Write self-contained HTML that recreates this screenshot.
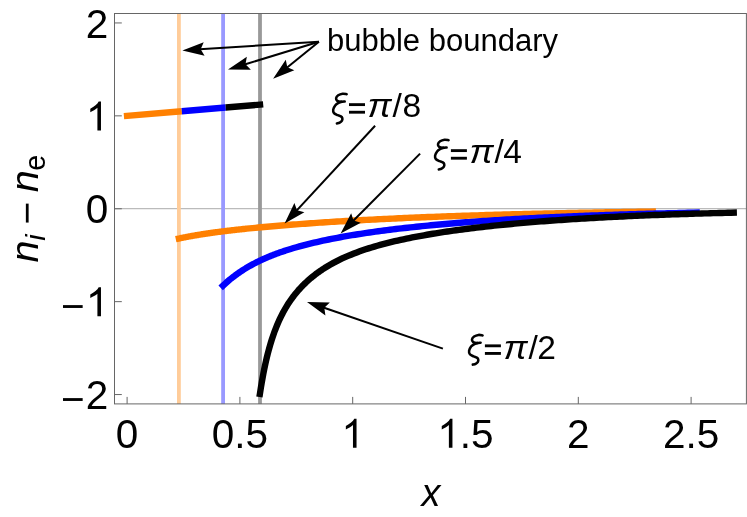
<!DOCTYPE html><html><head><meta charset="utf-8"><style>html,body{margin:0;padding:0;background:#fff}svg{display:block;will-change:transform;opacity:0.999}text{font-family:"Liberation Sans",sans-serif;fill:#000}</style></head><body>
<svg width="747" height="517" viewBox="0 0 747 517">
<rect width="747" height="517" fill="#fff"/>
<line x1="114.5" y1="208.70" x2="746.4" y2="208.70" stroke="#bbbbbb" stroke-width="1.3"/>
<line x1="178.9" y1="13.5" x2="178.9" y2="403.9" stroke="#ffcc99" stroke-width="3.8"/>
<line x1="223.1" y1="13.5" x2="223.1" y2="403.9" stroke="#9999ff" stroke-width="3.8"/>
<line x1="260.0" y1="13.5" x2="260.0" y2="403.9" stroke="#999999" stroke-width="3.8"/>
<g fill="none" stroke-width="6.4" stroke-linecap="butt">
<line x1="123.91" y1="116.12" x2="181.80" y2="111.22" stroke="#ff8000"/>
<line x1="181.80" y1="111.22" x2="225.70" y2="107.51" stroke="#0000ff"/>
<line x1="225.70" y1="107.51" x2="263.19" y2="104.34" stroke="#000"/>
</g>
<g fill="none" stroke-width="6.4" stroke-linecap="square" stroke-linejoin="round">
<path d="M178.90 238.52 L179.75 238.34 L180.61 238.16 L181.47 237.98 L182.32 237.80 L183.18 237.63 L184.04 237.45 L184.89 237.28 L185.75 237.12 L186.61 236.95 L187.46 236.79 L188.32 236.62 L189.18 236.46 L190.03 236.31 L190.89 236.15 L191.75 236.00 L192.61 235.84 L193.46 235.69 L194.32 235.54 L195.18 235.40 L196.03 235.25 L196.89 235.11 L197.75 234.97 L198.60 234.83 L199.46 234.69 L200.32 234.55 L201.17 234.41 L202.03 234.28 L202.89 234.14 L203.74 234.01 L204.60 233.88 L205.46 233.75 L206.31 233.62 L207.17 233.50 L208.03 233.37 L208.88 233.25 L209.74 233.12 L210.60 233.00 L211.45 232.88 L212.31 232.76 L213.17 232.64 L214.02 232.53 L214.88 232.41 L215.74 232.29 L216.59 232.18 L217.45 232.07 L218.31 231.95 L219.16 231.84 L220.02 231.73 L220.88 231.62 L221.73 231.51 L222.59 231.41 L223.45 231.30 L224.30 231.19 L225.16 231.09 L226.02 230.98 L226.87 230.88 L227.73 230.78 L228.59 230.67 L229.44 230.57 L230.30 230.47 L231.16 230.37 L232.01 230.27 L232.87 230.18 L233.73 230.08 L234.58 229.98 L235.44 229.88 L236.30 229.79 L237.15 229.69 L238.01 229.60 L238.87 229.51 L239.72 229.41 L240.58 229.32 L241.44 229.23 L242.29 229.14 L243.15 229.05 L244.01 228.96 L244.86 228.87 L245.72 228.78 L246.58 228.69 L249.50 228.39 L252.42 228.10 L255.34 227.82 L258.26 227.54 L261.19 227.26 L264.11 227.00 L267.03 226.73 L269.95 226.47 L272.87 226.22 L275.80 225.97 L278.72 225.72 L281.64 225.48 L284.56 225.24 L287.48 225.01 L290.40 224.78 L293.33 224.56 L296.25 224.33 L299.17 224.11 L302.09 223.90 L305.01 223.69 L307.93 223.48 L310.86 223.27 L313.78 223.07 L316.70 222.87 L319.62 222.67 L322.54 222.48 L325.47 222.29 L328.39 222.10 L331.31 221.92 L334.23 221.73 L337.15 221.55 L340.07 221.38 L343.00 221.20 L345.92 221.03 L348.84 220.86 L351.76 220.69 L354.68 220.53 L357.60 220.36 L360.53 220.20 L363.45 220.05 L366.37 219.89 L369.29 219.74 L372.21 219.58 L375.14 219.44 L378.06 219.29 L380.98 219.14 L383.90 219.00 L386.82 218.86 L389.74 218.72 L392.67 218.58 L395.59 218.45 L398.51 218.31 L401.43 218.18 L404.35 218.05 L407.27 217.92 L410.20 217.80 L413.12 217.67 L416.04 217.55 L418.96 217.43 L421.88 217.31 L424.81 217.19 L427.73 217.07 L430.65 216.96 L433.57 216.85 L436.49 216.74 L439.41 216.63 L442.34 216.52 L445.26 216.41 L448.18 216.30 L451.10 216.20 L454.02 216.10 L456.94 216.00 L459.87 215.90 L462.79 215.80 L465.71 215.70 L468.63 215.61 L471.55 215.51 L474.48 215.42 L477.40 215.33 L480.32 215.24 L483.24 215.15 L486.16 215.06 L489.08 214.97 L492.01 214.89 L494.93 214.80 L497.85 214.72 L500.77 214.64 L503.69 214.56 L506.61 214.48 L509.54 214.40 L512.46 214.32 L515.38 214.24 L518.30 214.17 L521.22 214.09 L524.15 214.02 L527.07 213.95 L529.99 213.87 L532.91 213.80 L535.83 213.73 L538.75 213.67 L541.68 213.60 L544.60 213.53 L547.52 213.47 L550.44 213.40 L553.36 213.34 L556.28 213.27 L559.21 213.21 L562.13 213.15 L565.05 213.09 L567.97 213.03 L570.89 212.97 L573.82 212.91 L576.74 212.86 L579.66 212.80 L582.58 212.74 L585.50 212.69 L588.42 212.63 L591.35 212.58 L594.27 212.53 L597.19 212.48 L600.11 212.42 L603.03 212.37 L605.95 212.32 L608.88 212.28 L611.80 212.23 L614.72 212.18 L617.64 212.13 L620.56 212.09 L623.49 212.04 L626.41 211.99 L629.33 211.95 L632.25 211.91 L635.17 211.86 L638.09 211.82 L641.02 211.78 L643.94 211.74 L646.86 211.69 L649.78 211.65 L652.70 211.61" stroke="#ff8000"/>
<path d="M223.00 285.66 L223.86 284.85 L224.72 284.06 L225.57 283.28 L226.43 282.52 L227.29 281.77 L228.14 281.03 L229.00 280.30 L229.86 279.59 L230.71 278.89 L231.57 278.20 L232.43 277.52 L233.28 276.86 L234.14 276.20 L235.00 275.56 L235.85 274.93 L236.71 274.30 L237.57 273.69 L238.42 273.09 L239.28 272.50 L240.14 271.91 L240.99 271.34 L241.85 270.77 L242.71 270.22 L243.56 269.67 L244.42 269.13 L245.28 268.60 L246.13 268.08 L246.99 267.57 L247.85 267.06 L248.70 266.57 L249.56 266.07 L250.42 265.59 L251.27 265.12 L252.13 264.65 L252.99 264.18 L253.84 263.73 L254.70 263.28 L255.56 262.84 L256.41 262.40 L257.27 261.97 L258.13 261.55 L258.98 261.13 L259.84 260.72 L260.70 260.31 L261.55 259.91 L262.41 259.52 L263.27 259.13 L264.12 258.74 L264.98 258.37 L265.84 257.99 L266.69 257.62 L267.55 257.26 L268.41 256.90 L269.26 256.54 L270.12 256.19 L270.98 255.85 L271.83 255.50 L272.69 255.17 L273.55 254.83 L274.41 254.50 L275.26 254.18 L276.12 253.86 L276.98 253.54 L277.83 253.23 L278.69 252.92 L279.55 252.61 L280.40 252.31 L281.26 252.01 L282.12 251.72 L282.97 251.42 L283.83 251.14 L284.69 250.85 L285.54 250.57 L286.40 250.29 L287.26 250.01 L288.11 249.74 L288.97 249.47 L289.83 249.20 L290.68 248.94 L293.60 248.06 L296.52 247.21 L299.44 246.40 L302.36 245.60 L305.28 244.84 L308.20 244.10 L311.12 243.38 L314.04 242.68 L316.97 242.01 L319.89 241.35 L322.81 240.72 L325.73 240.10 L328.65 239.50 L331.57 238.91 L334.49 238.34 L337.41 237.79 L340.33 237.25 L343.25 236.72 L346.17 236.21 L349.09 235.70 L352.01 235.21 L354.93 234.74 L357.85 234.27 L360.77 233.81 L363.69 233.37 L366.61 232.93 L369.53 232.50 L372.45 232.08 L375.37 231.68 L378.29 231.28 L381.21 230.88 L384.13 230.50 L387.05 230.12 L389.97 229.76 L392.89 229.39 L395.81 229.04 L398.73 228.69 L401.65 228.35 L404.57 228.02 L407.49 227.70 L410.41 227.37 L413.34 227.06 L416.26 226.75 L419.18 226.45 L422.10 226.15 L425.02 225.86 L427.94 225.58 L430.86 225.30 L433.78 225.02 L436.70 224.75 L439.62 224.48 L442.54 224.22 L445.46 223.97 L448.38 223.72 L451.30 223.47 L454.22 223.23 L457.14 222.99 L460.06 222.76 L462.98 222.53 L465.90 222.30 L468.82 222.08 L471.74 221.86 L474.66 221.65 L477.58 221.44 L480.50 221.23 L483.42 221.03 L486.34 220.83 L489.26 220.64 L492.18 220.44 L495.10 220.26 L498.02 220.07 L500.94 219.89 L503.86 219.71 L506.78 219.53 L509.71 219.36 L512.63 219.19 L515.55 219.02 L518.47 218.86 L521.39 218.70 L524.31 218.54 L527.23 218.38 L530.15 218.23 L533.07 218.08 L535.99 217.93 L538.91 217.78 L541.83 217.64 L544.75 217.50 L547.67 217.36 L550.59 217.22 L553.51 217.09 L556.43 216.96 L559.35 216.83 L562.27 216.70 L565.19 216.58 L568.11 216.45 L571.03 216.33 L573.95 216.21 L576.87 216.10 L579.79 215.98 L582.71 215.87 L585.63 215.76 L588.55 215.65 L591.47 215.54 L594.39 215.43 L597.31 215.33 L600.23 215.23 L603.15 215.13 L606.08 215.03 L609.00 214.93 L611.92 214.84 L614.84 214.74 L617.76 214.65 L620.68 214.56 L623.60 214.47 L626.52 214.38 L629.44 214.29 L632.36 214.21 L635.28 214.12 L638.20 214.04 L641.12 213.96 L644.04 213.88 L646.96 213.80 L649.88 213.72 L652.80 213.65 L655.72 213.57 L658.64 213.50 L661.56 213.43 L664.48 213.36 L667.40 213.29 L670.32 213.22 L673.24 213.15 L676.16 213.08 L679.08 213.02 L682.00 212.95 L684.92 212.89 L687.84 212.82 L690.76 212.76 L693.68 212.70 L696.60 212.64" stroke="#0000ff"/>
<path d="M259.91 393.87 L260.77 388.37 L261.62 383.20 L262.48 378.33 L263.34 373.74 L264.19 369.40 L265.05 365.31 L265.91 361.43 L266.76 357.76 L267.62 354.27 L268.48 350.97 L269.33 347.82 L270.19 344.83 L271.05 341.98 L271.90 339.25 L272.76 336.66 L273.62 334.17 L274.47 331.79 L275.33 329.51 L276.19 327.33 L277.04 325.23 L277.90 323.21 L278.76 321.27 L279.62 319.40 L280.47 317.59 L281.33 315.85 L282.19 314.17 L283.04 312.55 L283.90 310.98 L284.76 309.46 L285.61 307.99 L286.47 306.56 L287.33 305.17 L288.18 303.83 L289.04 302.52 L289.90 301.25 L290.75 300.01 L291.61 298.81 L292.47 297.64 L293.32 296.50 L294.18 295.39 L295.04 294.30 L295.89 293.25 L296.75 292.21 L297.61 291.20 L298.46 290.22 L299.32 289.26 L300.18 288.31 L301.03 287.39 L301.89 286.49 L302.75 285.61 L303.60 284.75 L304.46 283.90 L305.32 283.08 L306.17 282.27 L307.03 281.47 L307.89 280.69 L308.74 279.93 L309.60 279.18 L310.46 278.44 L311.31 277.72 L312.17 277.02 L313.03 276.32 L313.88 275.64 L314.74 274.97 L315.60 274.31 L316.45 273.67 L317.31 273.03 L318.17 272.41 L319.02 271.80 L319.88 271.20 L320.74 270.61 L321.59 270.02 L322.45 269.45 L323.31 268.89 L324.16 268.34 L325.02 267.79 L325.88 267.26 L326.73 266.73 L327.59 266.21 L330.51 264.50 L333.43 262.88 L336.36 261.34 L339.28 259.88 L342.20 258.48 L345.12 257.15 L348.04 255.88 L350.96 254.67 L353.89 253.51 L356.81 252.39 L359.73 251.33 L362.65 250.30 L365.57 249.32 L368.50 248.37 L371.42 247.46 L374.34 246.59 L377.26 245.74 L380.18 244.92 L383.10 244.13 L386.03 243.37 L388.95 242.63 L391.87 241.91 L394.79 241.22 L397.71 240.55 L400.63 239.89 L403.56 239.26 L406.48 238.64 L409.40 238.04 L412.32 237.46 L415.24 236.90 L418.17 236.34 L421.09 235.80 L424.01 235.28 L426.93 234.77 L429.85 234.27 L432.77 233.78 L435.70 233.31 L438.62 232.84 L441.54 232.39 L444.46 231.94 L447.38 231.51 L450.30 231.09 L453.23 230.67 L456.15 230.26 L459.07 229.87 L461.99 229.48 L464.91 229.10 L467.84 228.72 L470.76 228.36 L473.68 228.00 L476.60 227.65 L479.52 227.31 L482.44 226.97 L485.37 226.64 L488.29 226.32 L491.21 226.00 L494.13 225.69 L497.05 225.38 L499.97 225.08 L502.90 224.79 L505.82 224.50 L508.74 224.22 L511.66 223.94 L514.58 223.67 L517.51 223.40 L520.43 223.14 L523.35 222.88 L526.27 222.63 L529.19 222.38 L532.11 222.14 L535.04 221.90 L537.96 221.66 L540.88 221.43 L543.80 221.21 L546.72 220.99 L549.64 220.77 L552.57 220.55 L555.49 220.34 L558.41 220.14 L561.33 219.94 L564.25 219.74 L567.18 219.54 L570.10 219.35 L573.02 219.16 L575.94 218.98 L578.86 218.80 L581.78 218.62 L584.71 218.44 L587.63 218.27 L590.55 218.10 L593.47 217.94 L596.39 217.77 L599.31 217.61 L602.24 217.46 L605.16 217.30 L608.08 217.15 L611.00 217.00 L613.92 216.86 L616.85 216.71 L619.77 216.57 L622.69 216.43 L625.61 216.30 L628.53 216.16 L631.45 216.03 L634.38 215.90 L637.30 215.78 L640.22 215.65 L643.14 215.53 L646.06 215.41 L648.98 215.29 L651.91 215.17 L654.83 215.06 L657.75 214.95 L660.67 214.84 L663.59 214.73 L666.52 214.63 L669.44 214.52 L672.36 214.42 L675.28 214.32 L678.20 214.22 L681.12 214.12 L684.05 214.03 L686.97 213.94 L689.89 213.84 L692.81 213.75 L695.73 213.66 L698.65 213.58 L701.58 213.49 L704.50 213.41 L707.42 213.33 L710.34 213.24 L713.26 213.17 L716.19 213.09 L719.11 213.01 L722.03 212.93 L724.95 212.86 L727.87 212.79 L730.79 212.72 L733.72 212.65" stroke="#000"/>
</g>
<rect x="114.5" y="13.5" width="631.9" height="390.4" fill="none" stroke="#666" stroke-width="1"/>
<path d="M127.10 403.90 V396.90 M239.90 403.90 V396.90 M352.70 403.90 V396.90 M465.50 403.90 V396.90 M578.30 403.90 V396.90 M691.10 403.90 V396.90 M114.50 394.55 H121.80 M114.50 301.65 H121.80 M114.50 208.75 H121.80 M114.50 115.85 H121.80 M114.50 22.95 H121.80" stroke="#666" stroke-width="1" fill="none"/>
<text x="127.1" y="447.8" font-size="40.5" text-anchor="middle">0</text>
<text x="239.9" y="447.8" font-size="40.5" text-anchor="middle">0.5</text>
<text x="578.3" y="447.8" font-size="40.5" text-anchor="middle">2</text>
<text x="691.1" y="447.8" font-size="40.5" text-anchor="middle">2.5</text>
<path transform="translate(341.44,447.80) scale(0.01978,-0.01978)" d="M763 0H583V1147Q518 1085 412.5 1023Q307 961 223 930V1104Q374 1175 487 1276Q600 1377 647 1472H763Z" fill="#000"/>
<path transform="translate(437.35,447.80) scale(0.01978,-0.01978)" d="M763 0H583V1147Q518 1085 412.5 1023Q307 961 223 930V1104Q374 1175 487 1276Q600 1377 647 1472H763Z" fill="#000"/>
<text x="459.87" y="447.8" font-size="40.5">.5</text>
<text x="108.4" y="37.6" font-size="40.5" text-anchor="end">2</text>
<path transform="translate(85.88,130.55) scale(0.01978,-0.01978)" d="M763 0H583V1147Q518 1085 412.5 1023Q307 961 223 930V1104Q374 1175 487 1276Q600 1377 647 1472H763Z" fill="#000"/>
<text x="108.4" y="223.4" font-size="40.5" text-anchor="end">0</text>
<path transform="translate(85.88,316.35) scale(0.01978,-0.01978)" d="M763 0H583V1147Q518 1085 412.5 1023Q307 961 223 930V1104Q374 1175 487 1276Q600 1377 647 1472H763Z" fill="#000"/>
<text x="60.9" y="319.7" font-size="40.5">−</text>
<text x="108.4" y="409.2" font-size="40.5" text-anchor="end">2</text>
<text x="60.9" y="412.6" font-size="40.5">−</text>
<text transform="translate(421.6,506) scale(0.96,1)" font-size="39.4" font-style="italic">x</text>
<g transform="translate(37.85,208.7) rotate(-90)"><text x="-53.7" y="0" font-size="39.5" font-style="italic">n</text><text x="-32.1" y="7.0" font-size="28.5" font-style="italic">i</text><text x="-15.9" y="2.5" font-size="39" >−</text><text x="16.4" y="0" font-size="39.5" font-style="italic">n</text><text x="38.05" y="7.4" font-size="28.7">e</text></g>
<text x="327" y="50.5" font-size="31">bubble boundary</text>
<g transform="translate(332.10,117.30)" fill="none" stroke="#000" stroke-width="2.55" stroke-linecap="round" stroke-linejoin="round"><path d="M14.60 -23.10 C13.92 -23.18 11.92 -23.78 10.50 -23.60 C9.08 -23.42 7.18 -22.75 6.10 -22.00 C5.02 -21.25 4.15 -20.03 4.00 -19.10 C3.85 -18.17 4.38 -17.00 5.20 -16.40 C6.02 -15.80 7.67 -15.60 8.90 -15.50 C10.13 -15.40 11.98 -15.75 12.60 -15.80"/><path d="M9.60 -15.50 C9.00 -15.28 7.08 -14.80 6.00 -14.20 C4.92 -13.60 3.92 -12.98 3.10 -11.90 C2.28 -10.82 1.30 -8.98 1.10 -7.70 C0.90 -6.42 1.15 -5.13 1.90 -4.20 C2.65 -3.27 4.45 -2.65 5.60 -2.10 C6.75 -1.55 8.03 -1.38 8.80 -0.90 C9.57 -0.42 10.02 0.10 10.20 0.80 C10.38 1.50 10.33 2.55 9.90 3.30 C9.47 4.05 8.45 4.83 7.60 5.30 C6.75 5.77 5.27 5.97 4.80 6.10"/></g><rect x="349.00" y="103.20" width="16" height="2.85" fill="#000"/><rect x="349.00" y="110.80" width="16" height="2.85" fill="#000"/><text transform="translate(367.60,117.30) scale(1.075,1)" font-size="33.5" font-style="italic">π</text><text x="392.50" y="117.30" font-size="33.5">/</text><text x="402.46" y="117.30" font-size="33.5">8</text>
<g transform="translate(434.00,163.30)" fill="none" stroke="#000" stroke-width="2.55" stroke-linecap="round" stroke-linejoin="round"><path d="M14.60 -23.10 C13.92 -23.18 11.92 -23.78 10.50 -23.60 C9.08 -23.42 7.18 -22.75 6.10 -22.00 C5.02 -21.25 4.15 -20.03 4.00 -19.10 C3.85 -18.17 4.38 -17.00 5.20 -16.40 C6.02 -15.80 7.67 -15.60 8.90 -15.50 C10.13 -15.40 11.98 -15.75 12.60 -15.80"/><path d="M9.60 -15.50 C9.00 -15.28 7.08 -14.80 6.00 -14.20 C4.92 -13.60 3.92 -12.98 3.10 -11.90 C2.28 -10.82 1.30 -8.98 1.10 -7.70 C0.90 -6.42 1.15 -5.13 1.90 -4.20 C2.65 -3.27 4.45 -2.65 5.60 -2.10 C6.75 -1.55 8.03 -1.38 8.80 -0.90 C9.57 -0.42 10.02 0.10 10.20 0.80 C10.38 1.50 10.33 2.55 9.90 3.30 C9.47 4.05 8.45 4.83 7.60 5.30 C6.75 5.77 5.27 5.97 4.80 6.10"/></g><rect x="450.90" y="149.20" width="16" height="2.85" fill="#000"/><rect x="450.90" y="156.80" width="16" height="2.85" fill="#000"/><text transform="translate(469.50,163.30) scale(1.075,1)" font-size="33.5" font-style="italic">π</text><text x="494.40" y="163.30" font-size="33.5">/</text><text x="503.33" y="163.30" font-size="33.5">4</text>
<g transform="translate(468.00,358.50)" fill="none" stroke="#000" stroke-width="2.55" stroke-linecap="round" stroke-linejoin="round"><path d="M14.60 -23.10 C13.92 -23.18 11.92 -23.78 10.50 -23.60 C9.08 -23.42 7.18 -22.75 6.10 -22.00 C5.02 -21.25 4.15 -20.03 4.00 -19.10 C3.85 -18.17 4.38 -17.00 5.20 -16.40 C6.02 -15.80 7.67 -15.60 8.90 -15.50 C10.13 -15.40 11.98 -15.75 12.60 -15.80"/><path d="M9.60 -15.50 C9.00 -15.28 7.08 -14.80 6.00 -14.20 C4.92 -13.60 3.92 -12.98 3.10 -11.90 C2.28 -10.82 1.30 -8.98 1.10 -7.70 C0.90 -6.42 1.15 -5.13 1.90 -4.20 C2.65 -3.27 4.45 -2.65 5.60 -2.10 C6.75 -1.55 8.03 -1.38 8.80 -0.90 C9.57 -0.42 10.02 0.10 10.20 0.80 C10.38 1.50 10.33 2.55 9.90 3.30 C9.47 4.05 8.45 4.83 7.60 5.30 C6.75 5.77 5.27 5.97 4.80 6.10"/></g><rect x="484.90" y="344.40" width="16" height="2.85" fill="#000"/><rect x="484.90" y="352.00" width="16" height="2.85" fill="#000"/><text transform="translate(503.50,358.50) scale(1.075,1)" font-size="33.5" font-style="italic">π</text><text x="528.40" y="358.50" font-size="33.5">/</text><text x="537.33" y="358.50" font-size="33.5">2</text>
<line x1="318.90" y1="41.70" x2="199.66" y2="49.30" stroke="#000" stroke-width="2.00"/><path d="M182.40 50.40 L203.72 42.23 L200.66 49.24 L204.59 55.80 Z" fill="#000"/>
<line x1="318.90" y1="41.70" x2="244.54" y2="64.52" stroke="#000" stroke-width="2.00"/><path d="M228.00 69.60 L246.85 56.70 L245.49 64.23 L250.84 69.70 Z" fill="#000"/>
<line x1="318.90" y1="41.70" x2="286.54" y2="67.91" stroke="#000" stroke-width="2.00"/><path d="M273.10 78.80 L285.76 59.79 L287.32 67.28 L294.32 70.36 Z" fill="#000"/>
<line x1="375.10" y1="125.70" x2="296.34" y2="210.90" stroke="#000" stroke-width="2.00"/><path d="M284.60 223.60 L294.40 202.98 L297.02 210.16 L304.39 212.21 Z" fill="#000"/>
<line x1="420.10" y1="153.60" x2="352.80" y2="221.24" stroke="#000" stroke-width="2.00"/><path d="M340.60 233.50 L351.16 213.25 L353.51 220.53 L360.80 222.84 Z" fill="#000"/>
<line x1="442.90" y1="348.60" x2="323.36" y2="307.52" stroke="#000" stroke-width="2.00"/><path d="M307.00 301.90 L329.83 302.55 L324.31 307.85 L325.41 315.42 Z" fill="#000"/>
</svg></body></html>
